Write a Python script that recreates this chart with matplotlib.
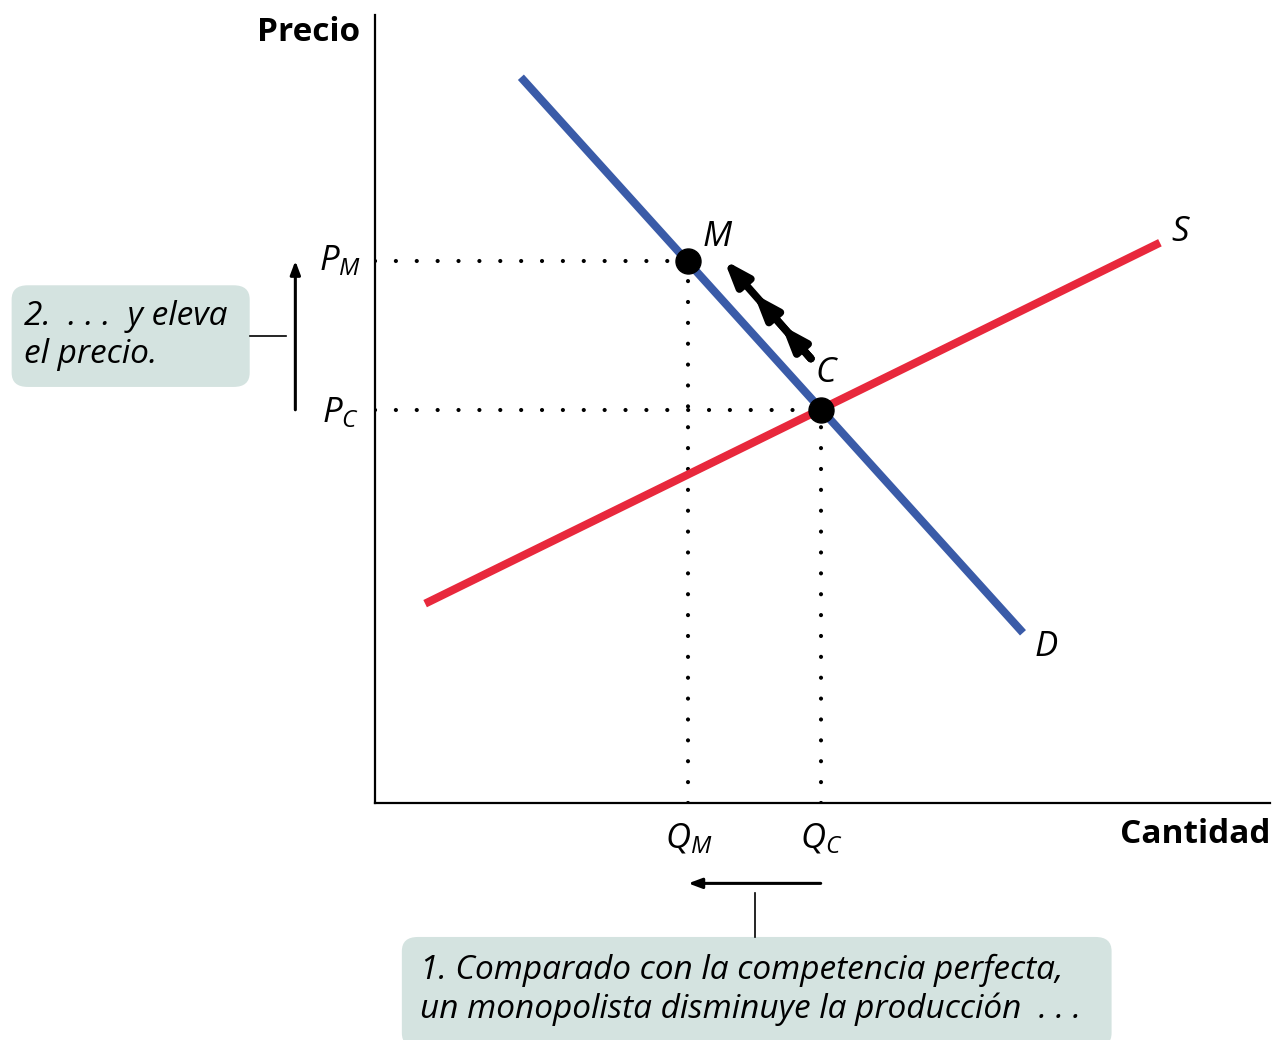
import matplotlib
matplotlib.use("Agg")
from matplotlib import pyplot as plt
from matplotlib.patches import FancyBboxPatch

# curve endpoints (quantity, price) in arbitrary units
demand_q = [16.3, 72.4]
demand_p = [92.1, 21.6]
supply_q = [5.6, 87.7]
supply_p = [25.3, 71.1]

# monopoly and competitive points
QM, PM = 35.0, 68.8
QC, PC = 49.8, 49.9

BLUE = "#3a5ba8"
RED = "#e8283c"
BOX = "#d4e3e0"
FONT = ["Open Sans", "DejaVu Sans"]

plt.rcParams["mathtext.fontset"] = "custom"
plt.rcParams["mathtext.it"] = "Open Sans:italic"
plt.rcParams["mathtext.rm"] = "Open Sans"

fig = plt.figure(figsize=(12.76, 10.4), dpi=100)
ax = fig.add_axes([375/1276, (1040-803)/1040, (1270-375)/1276, (803-15)/1040])
ax.set_xlim(0, 100)
ax.set_ylim(0, 100)
ax.set_xticks([])
ax.set_yticks([])
for s in ["top", "right"]:
    ax.spines[s].set_visible(False)
for s in ["left", "bottom"]:
    ax.spines[s].set_linewidth(1.6)

dots = dict(color="black", lw=3.0, linestyle=(0, (0.01, 5.0)), dash_capstyle="round", zorder=2)
ax.plot([0, QM], [PM, PM], **dots)
ax.plot([0, QC], [PC, PC], **dots)
ax.plot([QM, QM], [0, PM], **dots)
ax.plot([QC, QC], [0, PC], **dots)

ax.plot(supply_q, supply_p, color=RED, lw=5.8, solid_capstyle="butt", zorder=3)
ax.plot(demand_q, demand_p, color=BLUE, lw=5.8, solid_capstyle="butt", zorder=3)
ax.plot([QM, QC], [PM, PC], "o", color="black", ms=18, zorder=5)

# multi-headed arrow from C to M
a0 = (QC - 1.1, PC + 6.5)
a1 = (QM + 4.0, PM + 0.1)
for f in [1.0, 0.66, 0.34]:
    tip = (a0[0] + (a1[0] - a0[0]) * f, a0[1] + (a1[1] - a0[1]) * f)
    ax.annotate("", xy=tip, xytext=a0,
                arrowprops=dict(arrowstyle="-|>,head_length=1.5,head_width=0.55",
                                color="black", lw=5.5, shrinkA=0, shrinkB=0),
                zorder=4)

lab = dict(fontsize=25, style="italic", family=FONT, ha="center", va="center")
ax.text(QM + 3.2, PM + 3.0, "M", **lab)
ax.text(QC + 0.5, PC + 4.7, "C", **lab)
ax.text(90.0, 72.5, "S", **lab)
ax.text(75.0, 19.8, "D", **lab)
ax.text(-3.9, PM, "$P_M$", fontsize=25, ha="center", va="center")
ax.text(-3.9, PC - 0.3, "$P_C$", fontsize=25, ha="center", va="center")
ax.text(QM, -4.6, "$Q_M$", fontsize=25, ha="center", va="center")
ax.text(QC, -4.6, "$Q_C$", fontsize=25, ha="center", va="center")

ax.text(-1.7, 97.8, "Precio", fontsize=24, weight="bold", family=FONT,
        ha="right", va="center")
ax.text(100.0, -4.0, "Cantidad", fontsize=24, weight="bold", family=FONT,
        ha="right", va="center")

# price arrow and callout
ax.annotate("", xy=(-8.9, PM), xytext=(-8.9, PC),
            arrowprops=dict(arrowstyle="-|>,head_length=0.8,head_width=0.3",
                            color="black", lw=2.2, shrinkA=0, shrinkB=0),
            annotation_clip=False)
ax.plot([-14.0, -10.0], [59.3, 59.3], color="black", lw=1.2, clip_on=False)
ax.add_patch(FancyBboxPatch((-40.6, 52.8), 26.6, 12.9,
                            boxstyle="round,pad=0,rounding_size=1.8",
                            fc=BOX, ec="none", clip_on=False))
ax.text(-39.2, 59.3, "2.  . . .  y eleva\nel precio.", fontsize=24, style="italic",
        family=FONT, ha="left", va="center", linespacing=1.2)

# quantity arrow and callout
ax.annotate("", xy=(QM, -10.2), xytext=(QC, -10.2),
            arrowprops=dict(arrowstyle="-|>,head_length=0.8,head_width=0.3",
                            color="black", lw=2.2, shrinkA=0, shrinkB=0),
            annotation_clip=False)
ax.plot([42.5, 42.5], [-11.4, -17.0], color="black", lw=1.2, clip_on=False)
ax.add_patch(FancyBboxPatch((3.0, -31.0), 79.3, 14.0,
                            boxstyle="round,pad=0,rounding_size=1.8",
                            fc=BOX, ec="none", clip_on=False))
ax.text(5.0, -23.7, "1. Comparado con la competencia perfecta,\nun monopolista disminuye la producción  . . .",
        fontsize=24, style="italic", family=FONT, ha="left", va="center",
        linespacing=1.2)

fig.savefig("out.png", dpi=100)
